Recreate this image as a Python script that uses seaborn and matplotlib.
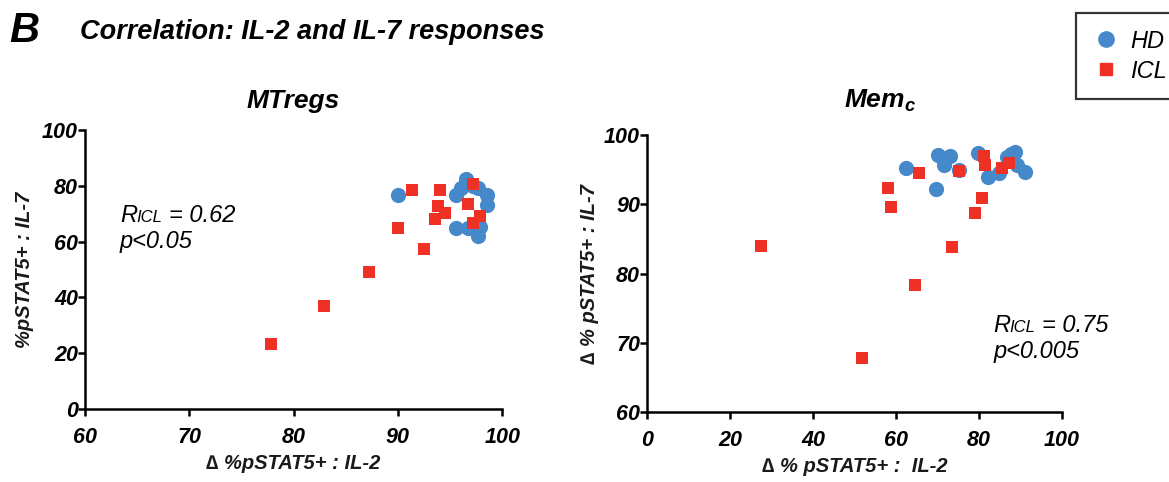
import matplotlib
matplotlib.use('Agg')
import matplotlib.pyplot as plt
import pandas as pd
import seaborn as sns


BLUE = '#4589CB'
RED = '#EE3124'

# MTregs panel
mtregs_hd_x = [90.0, 96.5, 96.0, 95.6, 97.7, 98.5, 98.5, 95.6, 96.7, 97.9, 97.7, 97.2]
mtregs_hd_y = [76.8, 82.4, 79.2, 76.7, 79.2, 76.7, 73.1, 64.9, 64.9, 65.2, 62.0, 80.0]
mtregs_icl_x = [77.8, 82.9, 87.2, 90.0, 92.5, 91.3, 94.0, 97.2, 93.8, 94.5, 93.5, 96.7, 97.9, 97.2]
mtregs_icl_y = [23.3, 36.9, 49.1, 64.9, 57.3, 78.5, 78.5, 80.6, 72.8, 70.3, 68.1, 73.5, 69.2, 66.7]

# Memc panel
memc_hd_x = [62.4, 70.1, 73.0, 71.6, 69.6, 75.2, 79.8, 82.2, 84.8, 86.7, 88.7, 89.2, 91.1, 87.8]
memc_hd_y = [95.2, 97.1, 96.9, 95.6, 92.2, 94.9, 97.4, 93.9, 94.5, 96.8, 97.5, 95.6, 94.6, 97.2]
memc_icl_x = [27.5, 51.8, 58.1, 58.8, 64.6, 65.5, 73.5, 75.2, 79.0, 80.7, 81.2, 81.4, 85.5, 87.2]
memc_icl_y = [84.0, 67.8, 92.3, 89.6, 78.3, 94.5, 83.8, 94.8, 88.7, 90.9, 96.9, 95.6, 95.2, 95.9]


def make_df(hd_x, hd_y, icl_x, icl_y):
  return pd.DataFrame({
    'x': hd_x + icl_x,
    'y': hd_y + icl_y,
    'group': ['HD'] * len(hd_x) + ['ICL'] * len(icl_x),
  })


sns.set_style('ticks')
plt.rcParams['font.family'] = ['Liberation Sans', 'DejaVu Sans']
plt.rcParams['text.color'] = 'black'
plt.rcParams['axes.labelcolor'] = 'black'
plt.rcParams['axes.linewidth'] = 1.8
plt.rcParams['xtick.major.width'] = 1.8
plt.rcParams['ytick.major.width'] = 1.8
plt.rcParams['xtick.major.size'] = 5
plt.rcParams['ytick.major.size'] = 5
plt.rcParams['xtick.major.pad'] = 8
plt.rcParams['ytick.major.pad'] = 0
plt.rcParams['xtick.color'] = 'black'
plt.rcParams['ytick.color'] = 'black'
plt.rcParams['axes.edgecolor'] = 'black'

fig = plt.figure(figsize=(11.69, 4.82), dpi=100)
ax1 = fig.add_axes([0.0727, 0.1515, 0.357, 0.579])
ax2 = fig.add_axes([0.5535, 0.145, 0.355, 0.575])

palette = {'HD': BLUE, 'ICL': RED}
markers = {'HD': 'o', 'ICL': 's'}
sizes = {'HD': 120, 'ICL': 85}


def draw(ax, df, xlim, ylim, xticks, yticks):
  for g in ['HD', 'ICL']:
    sub = df[df['group'] == g]
    sns.scatterplot(data=sub, x='x', y='y', color=palette[g], marker=markers[g],
                    s=sizes[g], linewidth=0, ax=ax, legend=False, clip_on=False, zorder=3)
  sns.despine(ax=ax)
  ax.set_xlim(*xlim)
  ax.set_ylim(*ylim)
  ax.set_xticks(xticks)
  ax.set_yticks(yticks)
  for lab in ax.get_xticklabels() + ax.get_yticklabels():
    lab.set_fontweight('bold')
    lab.set_fontstyle('italic')
    lab.set_fontsize(15.5)


draw(ax1, make_df(mtregs_hd_x, mtregs_hd_y, mtregs_icl_x, mtregs_icl_y),
     (60, 100), (0, 100), [60, 70, 80, 90, 100], [0, 20, 40, 60, 80, 100])
draw(ax2, make_df(memc_hd_x, memc_hd_y, memc_icl_x, memc_icl_y),
     (0, 100), (60, 100), [0, 20, 40, 60, 80, 100], [60, 70, 80, 90, 100])

lab_kw = dict(fontsize=14.5, fontweight='bold', fontstyle='italic', color='#1a1a1a')
ax1.set_xlabel('\u2206 %pSTAT5+ : IL-2', labelpad=4, **lab_kw)
ax1.set_ylabel('%pSTAT5+ : IL-7', labelpad=6, **lab_kw)
ax2.set_xlabel('\u2206 % pSTAT5+ :  IL-2', labelpad=4, **lab_kw)
ax2.set_ylabel('\u2206 % pSTAT5+ : IL-7', labelpad=4, **lab_kw)

title_kw = dict(fontsize=19, fontweight='bold', fontstyle='italic', ha='center', va='baseline')
fig.text(293 / 1169, 1 - 108 / 482, 'MTregs', **title_kw)
fig.text(880 / 1169, 1 - 108 / 482, 'Mem$_{\\mathregular{c}}$', **title_kw)


def stat_text(ax, x, y, r, p):
  ax.text(x, y, 'R', transform=ax.transAxes, fontsize=17, fontstyle='italic', va='baseline')
  ax.annotate('ICL', xy=(x, y), xycoords='axes fraction', xytext=(11.5, 0),
              textcoords='offset points', fontsize=12, fontstyle='italic', va='baseline')
  ax.annotate('= ' + r, xy=(x, y), xycoords='axes fraction', xytext=(35.5, 0),
              textcoords='offset points', fontsize=17, fontstyle='italic', va='baseline')
  ax.text(x, y - 0.093, p, transform=ax.transAxes, fontsize=17, fontstyle='italic', va='baseline')


stat_text(ax1, 0.084, 0.67, '0.62', 'p<0.05')
stat_text(ax2, 0.834, 0.289, '0.75', 'p<0.005')

fig.text(0.008, 1 - 42 / 482, 'B', fontsize=30, fontweight='bold', fontstyle='italic', va='baseline')
fig.text(80 / 1169, 1 - 39 / 482, 'Correlation: IL-2 and IL-7 responses', fontsize=19.5,
         fontweight='bold', fontstyle='italic', va='baseline')

handles = [
  plt.Line2D([], [], marker='o', linestyle='', color=BLUE, markersize=11),
  plt.Line2D([], [], marker='s', linestyle='', color=RED, markersize=9),
]
leg = fig.legend(handles, ['HD', 'ICL'], loc='upper left', bbox_to_anchor=(1076 / 1169, 1 - 13 / 482),
                 borderaxespad=0, frameon=True, fancybox=False, edgecolor='black',
                 prop={'size': 17, 'style': 'italic'},
                 handletextpad=0.45, borderpad=0.7, labelspacing=0.3, handlelength=1.15)
leg.get_frame().set_linewidth(1.6)

fig.savefig('out.png', dpi=100)
